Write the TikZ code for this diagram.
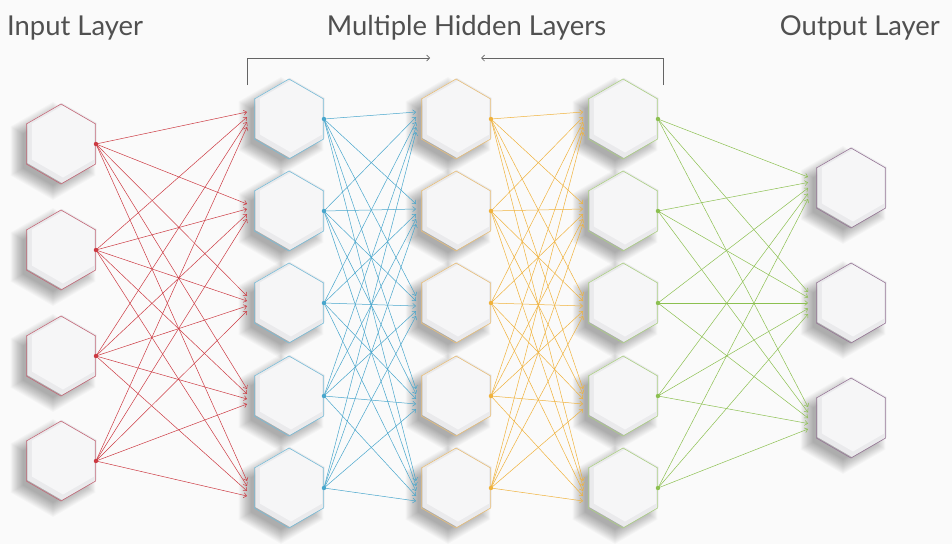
\documentclass[tikz,border=0pt]{standalone}
\usepackage{fontspec}
\setmainfont{Lato}
\usetikzlibrary{shapes.geometric,arrows.meta,calc}
\definecolor{bg}{RGB}{250,250,250}
\definecolor{redline}{RGB}{204,58,66}
\definecolor{redout}{RGB}{196,104,120}
\definecolor{blueline}{RGB}{72,166,204}
\definecolor{blueout}{RGB}{120,188,216}
\definecolor{orangeline}{RGB}{240,178,60}
\definecolor{orangeout}{RGB}{232,190,120}
\definecolor{greenline}{RGB}{140,192,80}
\definecolor{greenout}{RGB}{172,208,132}
\definecolor{outout}{RGB}{150,118,150}
\definecolor{textgray}{RGB}{80,80,80}
\definecolor{brackgray}{RGB}{100,100,100}
\definecolor{bodygray}{RGB}{234,234,236}
\definecolor{facegray}{RGB}{246,246,247}
\newcommand{\hexpth}[1]{(30:{#1}) -- (90:{#1}) -- (150:{#1}) -- (210:{#1}) -- (270:{#1}) -- (330:{#1}) -- cycle}
\newcommand{\hexshadow}[2]{%
  \foreach \k in {0,...,13}{\fill[black,opacity=0.022,shift={(#1-8,#2+7)}] \hexpth{49-\k*1.1};}}
\newcommand{\hexbody}[4]{%
  \fill[bodygray,shift={(#1+1,#2-1)}] \hexpth{40};
  \fill[facegray,shift={(#1+2,#2-2.5)}] \hexpth{36};
  \node[hexnode,draw=#3] (#4) at (#1,#2) {};}
\begin{document}
\begin{tikzpicture}[x=1pt,y=-1pt,
  hexnode/.style={regular polygon, regular polygon sides=6, shape border rotate=30, minimum size=80pt, inner sep=0pt, line width=0.6pt},
  conn/.style={line width=0.5pt, -{Straight Barb[length=3pt,width=5pt]}},
  brack/.style={line width=0.7pt, draw=brackgray},
  title/.style={inner sep=0pt, text=textgray, font=\fontsize{27.4}{31}\selectfont}]
\fill[bg] (0,0) rectangle (952,544);
\useasboundingbox (0,0) rectangle (952,544);
% shadows
\foreach \y in {144,250,356,461} {\hexshadow{61}{\y}}
\foreach \x in {289,456,623} {\foreach \y in {119,211,303,396,488} {\hexshadow{\x}{\y}}}
\foreach \y in {188,303,418} {\hexshadow{851}{\y}}
% bodies
\foreach \y [count=\i] in {144,250,356,461} {\hexbody{61}{\y}{redout}{in\i}}
\foreach \y [count=\i] in {119,211,303,396,488} {\hexbody{289}{\y}{blueout}{ha\i}}
\foreach \y [count=\i] in {119,211,303,396,488} {\hexbody{456}{\y}{orangeout}{hb\i}}
\foreach \y [count=\i] in {119,211,303,396,488} {\hexbody{623}{\y}{greenout}{hc\i}}
\foreach \y [count=\i] in {188,303,418} {\hexbody{851}{\y}{outout}{out\i}}
% connections
\foreach \i in {1,...,4} {\foreach \j in {1,...,5} {
  \draw[conn,redline] (in\i.east) -- ([shift={(-7,{-7+5*(\i-1)})}]ha\j.west);}}
\foreach \i in {1,...,5} {\foreach \j in {1,...,5} {
  \draw[conn,blueline] (ha\i.east) -- ([shift={(-5,{-7+5*(\i-1)})}]hb\j.west);
  \draw[conn,orangeline] (hb\i.east) -- ([shift={(-5,{-7+5*(\i-1)})}]hc\j.west);}}
\foreach \i in {1,...,5} {\foreach \j in {1,...,3} {
  \draw[conn,greenline] (hc\i.east) -- ([shift={(-8,{-11+5.5*(\i-1)})}]out\j.west);}}
% dots
\foreach \i in {1,...,4} {\fill[redline] (in\i.east) circle (2.2pt);}
\foreach \i in {1,...,5} {
  \fill[blueline] (ha\i.east) circle (2.2pt);
  \fill[orangeline] (hb\i.east) circle (2.2pt);
  \fill[greenline] (hc\i.east) circle (2.2pt);}
% bracket
\coordinate (bl0) at (247,85);
\coordinate (bl1) at (247,58);
\coordinate (bl2) at (430,58);
\coordinate (br0) at (663,85);
\coordinate (br1) at (663,58);
\coordinate (br2) at (481,58);
\draw[brack,-{Straight Barb[length=3pt,width=6pt]}] (bl0) -- (bl1) -- (bl2);
\draw[brack,-{Straight Barb[length=3pt,width=6pt]}] (br0) -- (br1) -- (br2);
% titles
\node[title,anchor=base west] (tin) at (7,35) {Input Layer};
\node[title,anchor=base] (thid) at (466.5,35) {Multiple Hidden Layers};
\node[title,anchor=base east] (tout) at (940,35) {Output Layer};
\end{tikzpicture}
\end{document}
